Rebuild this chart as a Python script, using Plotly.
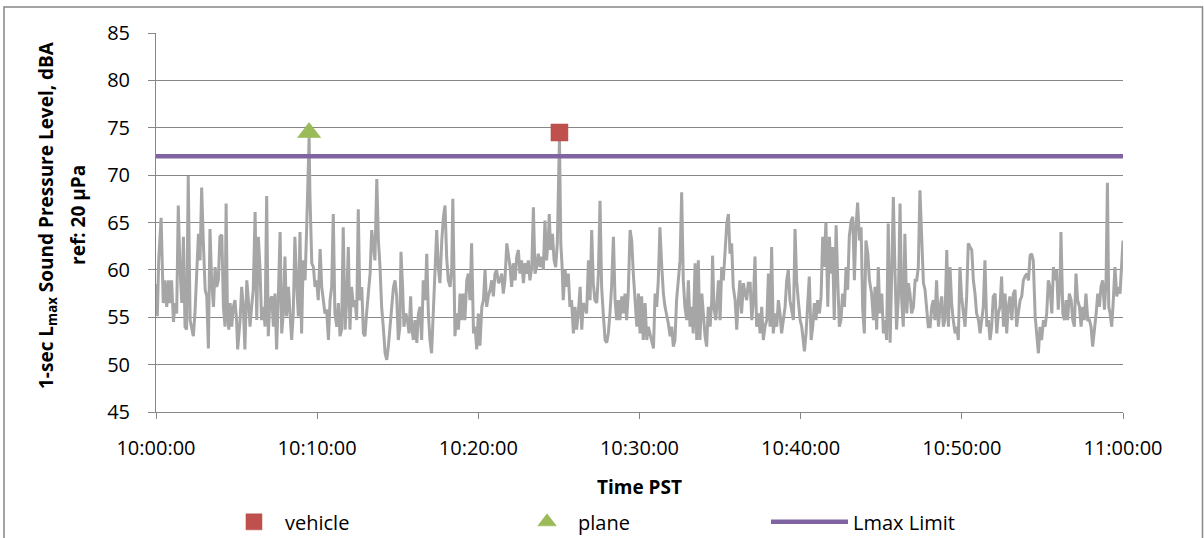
import plotly.graph_objects as go

# ---------------- data ----------------
# seconds after 10:00:00 and 1-sec Lmax sound level (dBA)
TIME_S = [
    0, 5, 10, 19, 27, 33, 40, 46, 52, 58, 65, 71, 77, 83, 89, 96, 102, 108, 114, 120,
    127, 133, 139, 145, 151, 158, 164, 170, 176, 183, 189, 195, 201, 207, 214, 220, 226, 232, 238, 245,
    251, 257, 261, 266, 271, 276, 282, 288, 294, 300, 304, 309, 313, 319, 325, 331, 338, 344, 350, 356,
    362, 369, 375, 381, 387, 393, 400, 406, 412, 418,
    424, 431, 437, 443, 449, 455, 462, 468, 474, 480, 486, 493, 499, 505, 511, 517, 524, 530, 536, 542,
    548, 555, 561, 570, 573, 580, 586, 592, 598, 604, 611, 617, 623, 629, 635, 642, 648, 654, 660, 666,
    673, 679, 685, 691, 697, 704, 710, 716, 722, 728, 735, 741, 747, 753, 759, 766, 772, 778, 784, 791,
    797, 803, 809, 815, 822, 828, 834, 840, 846, 853, 859, 865,
    884, 890, 896, 902, 908, 912, 918, 923, 930, 936, 942, 948, 952, 958, 964, 971, 977, 983, 989, 995,
    1002, 1008, 1014, 1020, 1026, 1033, 1039, 1045, 1051, 1057, 1064, 1070, 1076, 1082, 1088, 1095, 1101, 1105, 1110, 1113,
    1119, 1126, 1132, 1138, 1144, 1150, 1157, 1163, 1169, 1175, 1182, 1188, 1194, 1200, 1206, 1213, 1219, 1225, 1231, 1237,
    1244, 1250, 1256, 1262, 1268, 1275, 1281, 1287, 1293, 1299, 1306, 1312,
    1318, 1324, 1330, 1337, 1343, 1349, 1355, 1361, 1368, 1374, 1380, 1386, 1392, 1399, 1405, 1411, 1417, 1423, 1430, 1436,
    1442, 1448, 1454, 1461, 1464, 1469, 1476, 1482, 1488, 1494, 1502, 1507, 1512, 1516, 1523, 1529, 1535, 1541, 1547, 1554,
    1560, 1566, 1572, 1579, 1585, 1591, 1597, 1603, 1610, 1616, 1622, 1628, 1634, 1641, 1647, 1653, 1659, 1665, 1672, 1678,
    1684, 1690, 1696, 1703, 1709, 1715, 1721, 1727, 1734, 1740, 1746, 1752, 1758,
    1765, 1771, 1777, 1783, 1790, 1796, 1802, 1808, 1814, 1821, 1827, 1833, 1839, 1845, 1852, 1858, 1864, 1870, 1876, 1883,
    1889, 1895, 1901, 1907, 1914, 1920, 1926, 1932, 1938, 1945, 1951, 1957, 1963, 1969, 1976, 1982, 1988, 1994, 2000, 2007,
    2013, 2019, 2025, 2032, 2038, 2044, 2050, 2056, 2063, 2069, 2072, 2077, 2084, 2090, 2094, 2100, 2106, 2112, 2118, 2125,
    2131, 2137, 2143, 2149, 2156, 2162, 2168, 2174, 2180, 2187, 2193, 2199, 2205,
    2212, 2218, 2224, 2230, 2236, 2243, 2249, 2255, 2261, 2267, 2274, 2280, 2286, 2292, 2298, 2305, 2311, 2317, 2323, 2329,
    2336, 2342, 2348, 2354, 2360, 2367, 2373, 2379, 2385, 2391, 2398, 2404, 2410, 2414, 2420, 2426, 2432, 2439, 2445, 2451,
    2457, 2463, 2470, 2476, 2482, 2487, 2494, 2501, 2507, 2513, 2519, 2525, 2532, 2538, 2544, 2550, 2556, 2563, 2569, 2575,
    2581, 2588, 2594, 2600, 2606, 2612, 2619, 2625, 2631, 2637, 2643, 2650, 2656,
    2664, 2671, 2677, 2683, 2689, 2695, 2702, 2708, 2714, 2720, 2726, 2733, 2739, 2745, 2751, 2757, 2764, 2770, 2776, 2782,
    2788, 2795, 2801, 2807, 2813, 2820, 2826, 2832, 2838, 2844, 2851, 2857, 2863, 2869, 2875, 2882, 2888, 2894, 2900, 2906,
    2913, 2919, 2925, 2931, 2937, 2944, 2950, 2956, 2962, 2968, 2975, 2981, 2987, 2993, 2999, 3006, 3012, 3018, 3024, 3031,
    3037, 3043, 3049, 3055, 3062, 3068, 3074, 3080, 3086, 3093, 3099,
    3105, 3111, 3117, 3124, 3130, 3136, 3142, 3148, 3155, 3161, 3167, 3173, 3179, 3186, 3192, 3198, 3204, 3210, 3217, 3223,
    3229, 3235, 3242, 3248, 3254, 3260, 3266, 3273, 3279, 3285, 3291, 3297, 3304, 3310, 3316, 3322, 3328, 3335, 3341, 3347,
    3353, 3359, 3366, 3369, 3376, 3382, 3388, 3394, 3400, 3407, 3413, 3419, 3425, 3431, 3438, 3444, 3450, 3456, 3462, 3469,
    3475, 3481, 3487, 3493, 3500, 3506, 3512, 3518, 3524, 3531, 3537, 3542, 3547, 3552, 3558, 3564, 3570, 3577, 3583, 3589,
    3595, 3600,
]
SPL_DBA = [
    58.5, 55.1, 61.0, 65.5, 56.5, 58.9, 56.1, 58.9, 56.5, 58.9, 54.5, 56.5, 55.4, 66.8, 60.3, 56.5, 63.5, 54.0, 53.7, 69.9,
    54.7, 54.0, 53.0, 55.4, 60.3, 63.8, 61.0, 68.7, 63.1, 57.9, 57.2, 51.7, 64.3, 58.9, 56.1, 60.3, 58.2, 58.9, 63.5, 63.7,
    56.1, 54.0, 67.0, 55.4, 53.7, 56.5, 54.0, 56.1, 56.8, 54.7, 51.6, 53.0, 54.7, 58.2, 56.1, 51.6, 58.9, 56.8, 54.0, 56.1,
    57.9, 66.1, 54.7, 63.5, 60.3, 54.7, 56.1, 54.0, 67.8, 53.0,
    56.8, 57.2, 54.0, 57.5, 51.6, 56.8, 64.0, 53.3, 55.4, 61.4, 55.1, 58.2, 55.4, 52.6, 55.4, 63.5, 58.2, 55.1, 64.0, 53.3,
    61.0, 58.9, 64.5, 74.0, 68.0, 60.7, 60.3, 58.2, 58.9, 56.8, 62.2, 58.2, 56.8, 55.4, 55.8, 52.6, 56.8, 58.2, 65.9, 55.4,
    54.0, 56.5, 53.0, 53.7, 64.5, 53.7, 56.8, 62.4, 53.7, 58.2, 56.1, 56.8, 54.7, 66.4, 56.8, 58.2, 53.3, 53.0, 55.4, 58.2,
    59.6, 64.2, 62.4, 61.0, 69.6, 63.1, 60.3, 56.1, 54.0, 51.2, 50.5, 51.9,
    58.2, 58.9, 57.2, 52.6, 54.0, 61.9, 58.2, 54.0, 55.4, 54.7, 53.3, 57.2, 54.0, 52.6, 54.7, 52.3, 55.4, 56.1, 52.6, 58.9,
    56.8, 61.7, 55.4, 52.6, 51.2, 56.1, 58.9, 64.2, 60.3, 58.6, 63.1, 65.6, 66.8, 61.4, 58.9, 58.2, 60.3, 67.5, 58.6, 53.0,
    55.4, 53.7, 57.5, 54.7, 57.5, 54.7, 58.9, 59.6, 56.8, 62.8, 53.3, 54.0, 51.6, 55.4, 52.0, 56.1, 56.8, 60.0, 56.1, 57.2,
    57.9, 58.9, 57.2, 59.6, 60.0, 58.6, 58.9, 59.6, 57.5, 58.9, 62.8, 61.4,
    60.3, 58.2, 60.7, 58.9, 61.4, 62.1, 59.6, 61.0, 58.6, 60.7, 59.6, 61.0, 58.9, 60.3, 66.6, 59.6, 60.3, 61.7, 60.3, 61.4,
    60.0, 65.2, 61.0, 63.5, 65.9, 62.1, 63.8, 61.0, 60.3, 62.8, 74.0, 62.8, 60.3, 56.8, 60.0, 58.2, 59.6, 56.1, 56.8, 53.3,
    56.1, 53.7, 55.4, 58.2, 53.7, 56.5, 56.1, 55.4, 61.0, 56.8, 64.2, 58.6, 56.8, 56.5, 59.6, 67.3, 58.2, 55.4, 52.6, 52.3,
    53.3, 55.4, 58.2, 63.5, 56.8, 54.7, 56.8, 54.7, 57.2, 55.4, 57.5, 54.7, 57.5,
    64.2, 63.1, 59.6, 57.2, 54.0, 57.5, 53.3, 57.2, 52.6, 56.5, 52.6, 54.0, 53.3, 52.3, 51.7, 57.5, 56.1, 58.9, 64.5, 60.3,
    57.5, 56.1, 55.4, 54.4, 53.0, 54.0, 51.9, 52.6, 56.8, 58.9, 61.0, 68.2, 58.9, 56.1, 54.7, 58.9, 54.0, 56.1, 53.3, 60.7,
    52.6, 61.0, 52.6, 57.5, 55.4, 53.0, 51.9, 56.1, 54.0, 56.8, 61.5, 56.1, 54.7, 58.2, 58.9, 54.7, 60.3, 58.9, 61.4, 64.9,
    65.9, 61.7, 62.8, 58.2, 56.8, 53.7, 56.8, 58.9, 55.4, 58.6, 57.5, 56.8, 58.6,
    58.6, 54.7, 56.8, 61.4, 54.0, 55.4, 53.3, 56.1, 52.6, 54.0, 54.7, 59.6, 54.0, 62.4, 53.3, 55.4, 54.0, 56.8, 55.4, 53.3,
    54.7, 56.1, 58.9, 60.0, 56.8, 55.4, 54.7, 64.3, 58.9, 56.8, 54.7, 54.0, 51.9, 51.4, 53.3, 56.1, 59.3, 52.6, 54.0, 56.5,
    54.7, 56.8, 55.4, 57.2, 63.5, 60.3, 65.0, 56.1, 63.5, 59.6, 62.4, 54.7, 64.7, 58.9, 54.0, 54.7, 57.5, 56.1, 60.3, 57.9,
    63.5, 65.2, 65.6, 58.9, 64.5, 67.1, 63.1, 64.5, 55.8, 53.3, 63.1, 61.7, 58.9,
    57.5, 54.7, 58.2, 53.7, 60.3, 55.4, 57.5, 53.3, 54.7, 52.6, 64.9, 52.3, 59.6, 67.7, 60.0, 53.7, 57.2, 67.0, 56.8, 54.0,
    63.8, 55.4, 58.6, 57.5, 55.4, 56.1, 58.9, 58.9, 60.3, 68.4, 63.1, 58.6, 57.9, 55.4, 54.0, 54.0, 56.1, 56.8, 54.7, 58.9,
    54.0, 56.1, 57.2, 54.0, 54.7, 62.1, 54.0, 60.3, 56.5, 54.7, 53.3, 54.0, 52.6, 60.3, 57.2, 55.4, 54.0, 57.2, 62.8, 62.4,
    62.1, 58.9, 57.5, 55.4, 54.7, 53.3, 54.7, 56.1, 61.0, 54.0, 54.7,
    52.6, 54.0, 57.2, 57.5, 53.3, 55.4, 56.1, 59.3, 54.0, 57.5, 53.3, 56.1, 57.2, 54.7, 57.5, 57.9, 54.0, 55.4, 56.8, 57.2,
    58.9, 59.3, 59.6, 58.9, 61.5, 61.7, 61.0, 55.1, 52.6, 51.2, 54.0, 52.6, 54.7, 54.0, 55.4, 58.9, 58.2, 55.4, 60.3, 58.9,
    60.0, 55.8, 58.9, 64.0, 55.4, 54.7, 56.8, 54.7, 57.5, 56.8, 54.7, 54.0, 59.6, 56.8, 56.1, 54.0, 56.1, 54.7, 57.5, 54.7,
    54.7, 54.0, 51.9, 53.3, 55.4, 57.5, 56.1, 58.2, 58.9, 55.8, 58.9, 69.2, 56.1, 55.4, 54.0, 56.8, 60.3, 57.2, 58.2, 57.5,
    60.3, 63.1,
]

VEHICLE_T = [1502]
VEHICLE_DBA = [74.5]
PLANE_T = [570]
PLANE_DBA = [74.5]
LMAX_LIMIT_T = [0, 3600]
LMAX_LIMIT_DBA = [72, 72]

TICK_SECONDS = [0, 600, 1200, 1800, 2400, 3000, 3600]
TICK_LABELS = ["10:00:00", "10:10:00", "10:20:00", "10:30:00", "10:40:00", "10:50:00", "11:00:00"]
Y_TICKS = [45, 50, 55, 60, 65, 70, 75, 80, 85]
Y_TITLE_LINES = ["1-sec L<sub>max</sub> Sound Pressure Level, dBA", "ref: 20 µPa"]

FONT = "Open Sans"
GRID = "#878787"

fig = go.Figure()

fig.add_trace(go.Scatter(
    x=TIME_S, y=SPL_DBA, mode="lines", showlegend=False,
    line=dict(color="#A6A6A6", width=3), hoverinfo="skip",
))
fig.add_trace(go.Scatter(
    x=LMAX_LIMIT_T, y=LMAX_LIMIT_DBA, mode="lines", name="Lmax Limit",
    line=dict(color="#8064A2", width=4.5), legend="legend3",
))
fig.add_trace(go.Scatter(
    x=VEHICLE_T, y=VEHICLE_DBA, mode="markers", name="vehicle",
    marker=dict(symbol="square", size=17, color="#C0504D",
                line=dict(color="#B84A47", width=0.5)),
    legend="legend",
))
fig.add_trace(go.Scatter(
    x=PLANE_T, y=PLANE_DBA, mode="markers", name="plane",
    marker=dict(symbol="triangle-up", size=20, color="#9BBB59",
                line=dict(color="#93B150", width=0.5)),
    legend="legend2",
))

leg_common = dict(orientation="h", xref="container", yref="container",
                  yanchor="middle", y=0.030, xanchor="left",
                  font=dict(family=FONT, size=20, color="#000000"),
                  bgcolor="rgba(0,0,0,0)", borderwidth=0)

title_font = dict(family=FONT, size=19, color="#000000")

fig.update_layout(
    width=1204, height=538,
    margin=dict(l=156, r=81, t=33, b=126, autoexpand=False),
    paper_bgcolor="white", plot_bgcolor="white",
    font=dict(family=FONT, size=20, color="#000000"),
    legend=dict(x=0.1852, itemwidth=52, **leg_common),
    legend2=dict(x=0.4286, itemwidth=52, **leg_common),
    legend3=dict(x=0.6362, itemwidth=77, **leg_common),
    xaxis=dict(
        range=[0, 3600], tickmode="array", tickvals=TICK_SECONDS, ticktext=TICK_LABELS,
        showgrid=False, zeroline=False, showline=True, linecolor=GRID, linewidth=1,
        ticks="outside", ticklen=6, tickcolor=GRID, ticklabelstandoff=12,
        tickfont=dict(family=FONT, size=20, color="#000000"),
        title=dict(text="<b>Time PST</b>", font=title_font, standoff=20),
    ),
    yaxis=dict(
        range=[45, 85], tickmode="array", tickvals=Y_TICKS,
        showgrid=True, gridcolor=GRID, gridwidth=1, zeroline=False,
        showline=True, linecolor=GRID, linewidth=1,
        ticks="outside", ticklen=7, tickcolor=GRID, ticklabelstandoff=14,
        tickfont=dict(family=FONT, size=20, color="#000000"),
    ),
    annotations=[
        dict(text="<b>" + Y_TITLE_LINES[0] + "</b>", xref="paper", yref="paper",
             x=-0.1127, y=0.5198, xanchor="center", yanchor="middle",
             textangle=-90, showarrow=False, font=title_font),
        dict(text="<b>" + Y_TITLE_LINES[1] + "</b>", xref="paper", yref="paper",
             x=-0.0807, y=0.5198, xanchor="center", yanchor="middle",
             textangle=-90, showarrow=False, font=title_font),
    ],
    shapes=[dict(type="rect", xref="paper", yref="paper",
                 x0=-0.1572, x1=1.0822, y0=-0.6, y1=1.0686,
                 line=dict(color="#868686", width=1.5), fillcolor="rgba(0,0,0,0)", layer="below")],
)

fig.write_html("out.html")
